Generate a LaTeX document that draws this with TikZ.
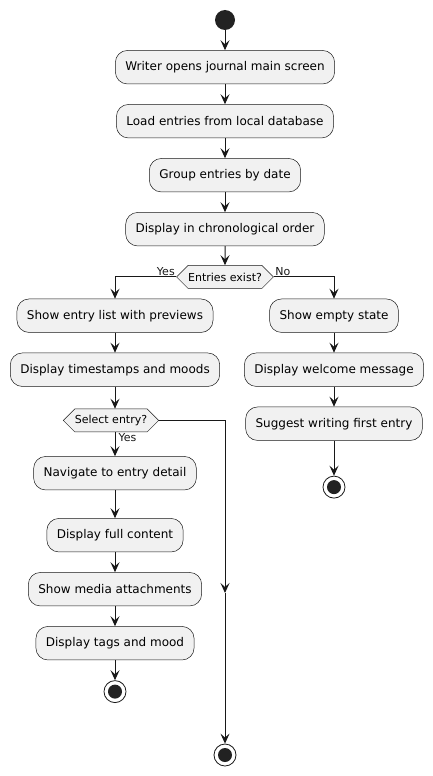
\documentclass[tikz,border=0pt]{standalone}
\usepackage{fontspec}
\setmainfont{DejaVu Sans}
\usepackage{tikz}
\usetikzlibrary{shapes.symbols,arrows.meta,positioning}
\definecolor{flowfill}{HTML}{F1F1F1}
\definecolor{flowline}{HTML}{181818}
\definecolor{flowdot}{HTML}{222222}
\tikzset{
  action/.style={rectangle, rounded corners=12pt, draw=flowline, line width=0.5pt,
                 fill=flowfill, text=black, align=center,
                 font=\fontsize{12}{14}\selectfont, minimum height=33.5pt, inner xsep=10pt},
  choice/.style={signal, signal to=west and east, signal pointer angle=90,
                 draw=flowline, line width=0.5pt, fill=flowfill, text=black,
                 font=\fontsize{11}{13}\selectfont, minimum height=23pt, inner xsep=0pt, inner ysep=1pt},
  startdot/.style={circle, fill=flowdot, minimum size=20pt, inner sep=0pt},
  enddot/.style={circle, draw=flowline, line width=0.8pt, fill=white, minimum size=22pt,
                 inner sep=0pt, path picture={\fill[flowdot] (path picture bounding box.center) circle (7pt);}},
  lbl/.style={font=\fontsize{11}{13}\selectfont, inner sep=1pt},
  arrow/.style={-{Stealth[length=10pt, width=9pt, inset=4pt]}, line width=1pt, color=flowline},
}
\begin{document}
\begin{tikzpicture}[node distance=20pt]
\useasboundingbox (0pt,0pt) rectangle (433pt,-776pt);
\node[startdot] (start) at (225pt,-20pt) {};
\node[action, below=of start] (opens) {Writer opens journal main screen};
\node[action, below=of opens] (load) {Load entries from local database};
\node[action, below=of load] (group) {Group entries by date};
\node[action, below=of group] (order) {Display in chronological order};
\node[choice, below=19pt of order] (exist) {Entries exist?};

\draw[arrow] (start) -- (opens);
\draw[arrow] (opens) -- (load);
\draw[arrow] (load) -- (group);
\draw[arrow] (group) -- (order);
\draw[arrow] (order) -- (exist);

% yes branch
\node[action, below=10pt of exist, xshift=-110pt] (list) {Show entry list with previews};
\node[action, below=of list] (stamps) {Display timestamps and moods};
\node[choice, below=22pt of stamps, xshift=-4pt] (select) {Select entry?};
\node[action, below=24pt of select, xshift=4pt] (detail) {Navigate to entry detail};
\node[action, below=28pt of detail] (full) {Display full content};
\node[action, below=of full] (media) {Show media attachments};
\node[action, below=of media] (tags) {Display tags and mood};
\node[enddot, below=of tags] (endleft) {};

\draw[arrow] (exist.west) -| node[lbl, anchor=south east, pos=0] {Yes} (list);
\draw[arrow] (list) -- (stamps);
\draw[arrow] (stamps) -- (select.north -| stamps.south);
\draw[arrow] (select.south -| detail.north) -- node[lbl, anchor=north west, pos=0, xshift=2pt] {Yes} (detail);
\draw[arrow] (detail) -- (full);
\draw[arrow] (full) -- (media);
\draw[arrow] (media) -- (tags);
\draw[arrow] (tags) -- (endleft);

% no branch
\node[action, below=10pt of exist, xshift=109pt] (empty) {Show empty state};
\node[action, below=of empty] (welcome) {Display welcome message};
\node[action, below=of welcome] (suggest) {Suggest writing first entry};
\node[enddot, below=35pt of suggest] (endright) {};

\draw[arrow] (exist.east) -| node[lbl, anchor=south west, pos=0] {No} (empty);
\draw[arrow] (empty) -- (welcome);
\draw[arrow] (welcome) -- (suggest);
\draw[arrow] (suggest) -- (endright);

% no selection
\coordinate (merge) at (225pt,-593pt);
\node[enddot] (endall) at (225pt,-755pt) {};
\draw[arrow] (select.east) -| (merge);
\draw[arrow] (merge) -- (endall);
\end{tikzpicture}
\end{document}
